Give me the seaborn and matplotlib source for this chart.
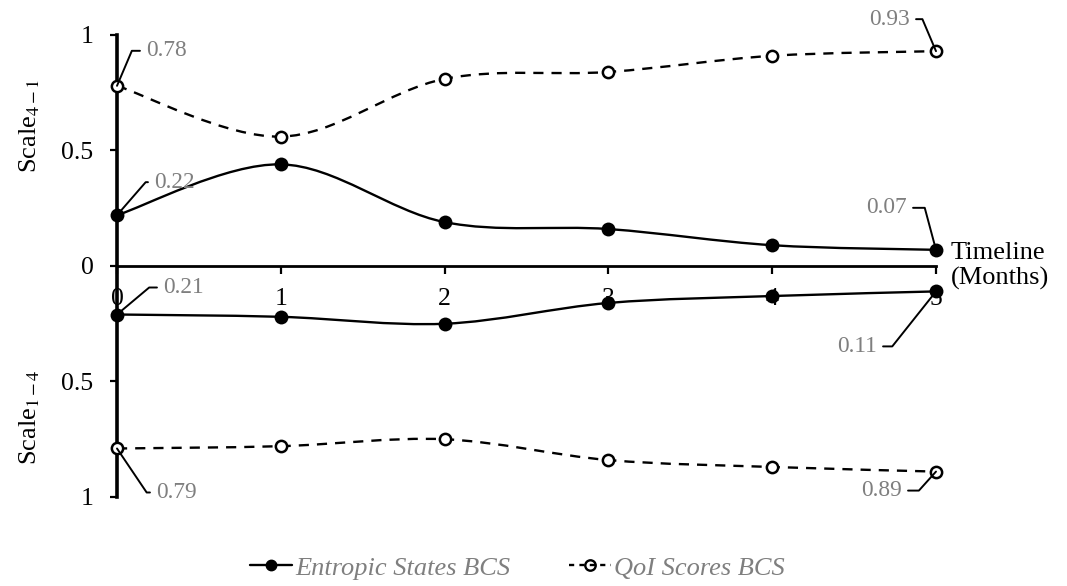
import numpy as np
import pandas as pd
import seaborn as sns
import matplotlib
matplotlib.use("Agg")
from matplotlib import pyplot as plt
from matplotlib.path import Path
from matplotlib.patches import PathPatch
from matplotlib.lines import Line2D

months = [0, 1, 2, 3, 4, 5]

# upper half: Scale 4-1
entropic_41 = [0.22, 0.44, 0.19, 0.16, 0.09, 0.07]
qoi_41 = [0.78, 0.56, 0.81, 0.84, 0.91, 0.93]

# lower half: Scale 1-4 (drawn downwards)
entropic_14 = [0.21, 0.22, 0.25, 0.16, 0.13, 0.11]
qoi_14 = [0.79, 0.78, 0.75, 0.84, 0.87, 0.89]

ytick_pos = [1, 0.5, 0, -0.5, -1]
ytick_labels = ["1", "0.5", "0", "0.5", "1"]

labels = ["Entropic States BCS", "QoI Scores BCS"]

sns.set_style("ticks")
plt.rcParams["font.family"] = ["Liberation Serif", "DejaVu Serif"]
plt.rcParams["mathtext.fontset"] = "stix"
for k in ["text.color", "axes.edgecolor", "axes.labelcolor", "xtick.color", "ytick.color"]:
    plt.rcParams[k] = "black"

GREY = "#7f7f7f"


def smooth_curve(xs, ys):
    # excel style smoothed line (catmull-rom as bezier)
    verts = [(xs[0], ys[0])]
    codes = [Path.MOVETO]
    n = len(xs)
    for i in range(n - 1):
        a = i - 1 if i > 0 else i
        d = i + 2 if i + 2 < n else i + 1
        c1 = (xs[i] + (xs[i + 1] - xs[a]) / 6, ys[i] + (ys[i + 1] - ys[a]) / 6)
        c2 = (xs[i + 1] - (xs[d] - xs[i]) / 6, ys[i + 1] - (ys[d] - ys[i]) / 6)
        verts += [c1, c2, (xs[i + 1], ys[i + 1])]
        codes += [Path.CURVE4] * 3
    return Path(verts, codes)


fig = plt.figure(figsize=(10.67, 5.86), dpi=100)
ax = fig.add_axes([0.10965, 0.15188, 0.76757, 0.78840])

series = [
    (entropic_41, 1, "solid"),
    (qoi_41, 1, "dashed"),
    (entropic_14, -1, "solid"),
    (qoi_14, -1, "dashed"),
]

for vals, sign, style in series:
    yy = [sign * v for v in vals]
    ls = "-" if style == "solid" else (0, (4.3, 3.4))
    patch = PathPatch(smooth_curve(months, yy), fill=False, edgecolor="black",
                      lw=1.7, linestyle=ls, clip_on=False, zorder=2)
    ax.add_patch(patch)
    df = pd.DataFrame({"month": months, "val": yy})
    if style == "solid":
        sns.scatterplot(data=df, x="month", y="val", ax=ax, s=100, color="black",
                        edgecolor="black", linewidth=0, clip_on=False, zorder=3)
    else:
        sns.scatterplot(data=df, x="month", y="val", ax=ax, s=66, color="white",
                        edgecolor="black", linewidth=1.8, clip_on=False, zorder=3)

ax.set_xlim(0, 5)
ax.set_ylim(-1, 1)
ax.set_xlabel("")
ax.set_ylabel("")

for s in ["top", "right"]:
    ax.spines[s].set_visible(False)
ax.spines["bottom"].set_position(("data", 0))
ax.spines["bottom"].set_linewidth(2)
ax.spines["left"].set_linewidth(2.6)

ax.set_xticks(months)
ax.set_xticklabels([str(m) for m in months])
ax.set_yticks(ytick_pos)
ax.set_yticklabels(ytick_labels)
ax.tick_params(axis="x", direction="out", length=5.8, width=1.6, pad=10, labelsize=18.5)
ax.tick_params(axis="y", direction="out", length=5, width=1.6, pad=12, labelsize=18.5)

# value call-outs: (x, y, text, dx px, dy px, align, leader angle)
callouts = [
    (0, qoi_41[0], "0.78", 29, 35, "left", 67),
    (0, entropic_41[0], "0.22", 37, 33, "left", 49),
    (0, -entropic_14[0], "0.21", 46, 27, "left", 40),
    (0, -qoi_14[0], "0.79", 39, -44, "left", -56),
    (5, qoi_41[5], "0.93", -26, 32, "right", 113),
    (5, entropic_41[5], "0.07", -29, 42, "right", 105),
    (5, -entropic_14[5], "0.11", -59, -55, "right", 231.5),
    (5, -qoi_14[5], "0.89", -34, -19, "right", 228),
]
for x, y, txt, dx, dy, ha, ang in callouts:
    ax.annotate(txt, xy=(x, y), xytext=(dx, dy), textcoords="offset pixels",
                ha=ha, va="center", fontsize=16.8, color=GREY,
                arrowprops=dict(arrowstyle="-", color="black", lw=1.4,
                                shrinkA=2, shrinkB=0,
                                relpos=(0, 0.5) if ha == "left" else (1, 0.5),
                                connectionstyle=f"angle,angleA=0,angleB={ang},rad=0"),
                annotation_clip=False, zorder=4)

ax.annotate("Timeline\n(Months)", xy=(5, 0), xytext=(15, 0), textcoords="offset pixels",
            ha="left", va="center", multialignment="left", fontsize=19,
            annotation_clip=False)

fig.text(30 / 1067, 1 - 126 / 586, "Scale$_{4-1}$", rotation=90,
         ha="center", va="center", fontsize=19)
fig.text(30 / 1067, 1 - 417 / 586, "Scale$_{1-4}$", rotation=90,
         ha="center", va="center", fontsize=19)

handles = [
    Line2D([], [], color="black", lw=1.7, marker="o", markersize=7.5),
    Line2D([], [], color="black", lw=1.7, linestyle=(0, (2.2, 2.2)), marker="o",
           markersize=7.5, markerfacecolor="none", markeredgewidth=1.7),
]
leg = fig.legend(handles, labels, loc="center", bbox_to_anchor=(0.485, 0.031),
                 ncol=2, frameon=False, handlelength=1.6, handletextpad=0.12,
                 columnspacing=2.2,
                 prop={"family": "Liberation Serif", "style": "italic", "size": 19})
for t in leg.get_texts():
    t.set_color(GREY)

fig.savefig("out.png", dpi=100)
